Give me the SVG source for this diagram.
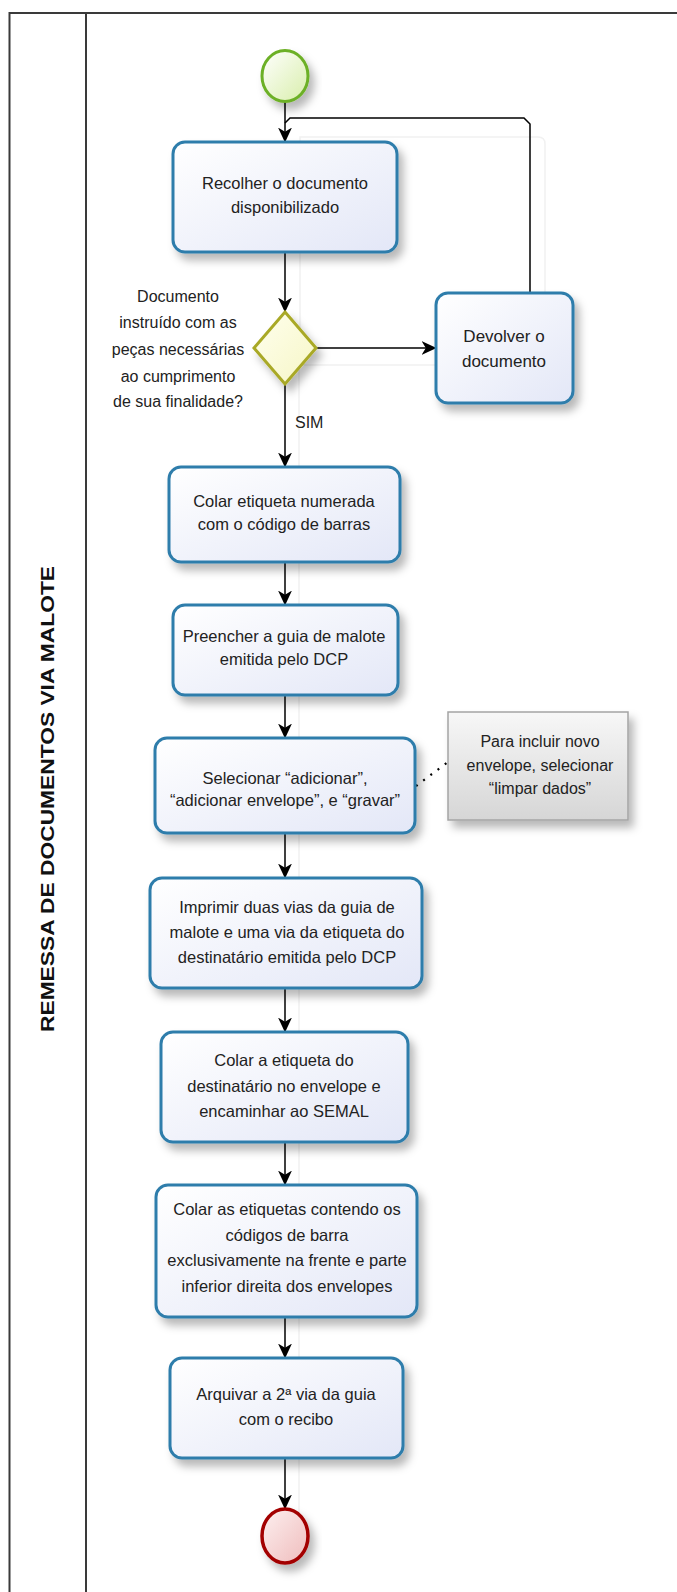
<svg xmlns="http://www.w3.org/2000/svg" width="677" height="1592" viewBox="0 0 677 1592">
<style>
.t{font-family:"Liberation Sans",Arial,sans-serif;font-size:16px;fill:#222;text-anchor:middle}
.b{font-size:16.5px}
.task{fill:url(#gTask);stroke:#2f7dab;stroke-width:3}
.con{fill:none;stroke:#000;stroke-width:1.5}
.frame{fill:none;stroke:#3a3a3a;stroke-width:2}
.ghost{fill:none;stroke:#f1f1f1;stroke-width:1.5}
</style>
<defs>
<linearGradient id="gTask" x1="0" y1="0" x2="1" y2="1"><stop offset="0" stop-color="#ffffff"/><stop offset="1" stop-color="#e3e7f7"/></linearGradient>
<linearGradient id="gStart" x1="0" y1="0" x2="1" y2="1"><stop offset="0" stop-color="#ffffff"/><stop offset="1" stop-color="#d8eeaa"/></linearGradient>
<linearGradient id="gEnd" x1="0" y1="0" x2="1" y2="1"><stop offset="0" stop-color="#fdf0f0"/><stop offset="1" stop-color="#efbcbc"/></linearGradient>
<linearGradient id="gGw" x1="0" y1="0" x2="1" y2="1"><stop offset="0" stop-color="#ffffee"/><stop offset="1" stop-color="#f6f6c6"/></linearGradient>
<linearGradient id="gNote" x1="0" y1="0" x2="0" y2="1"><stop offset="0" stop-color="#f7f7f7"/><stop offset="1" stop-color="#d6d6d6"/></linearGradient>
<filter id="sh" x="-20%" y="-20%" width="150%" height="160%"><feDropShadow dx="5" dy="7" stdDeviation="4" flood-color="#000" flood-opacity="0.28"/></filter>
<marker id="arr" viewBox="0 0 14 14" refX="13.5" refY="7" markerWidth="15" markerHeight="15" markerUnits="userSpaceOnUse" orient="auto"><path d="M0,0.5 L14,7 L0,13.5 L4,7 z" fill="#000"/></marker>
</defs>

<g id="lane">
<line class="frame" x1="9.5" y1="13" x2="677" y2="13"/>
<line class="frame" x1="9.5" y1="12" x2="9.5" y2="1592"/>
<line class="frame" x1="86" y1="13" x2="86" y2="1592"/>
<text transform="translate(54,799) rotate(-90)" style="font-family:'Liberation Sans',Arial,sans-serif;font-weight:bold;font-size:18px;fill:#111;text-anchor:middle" textLength="466" lengthAdjust="spacingAndGlyphs">REMESSA DE DOCUMENTOS VIA MALOTE</text>
</g>

<g id="ghosts">
<path class="ghost" d="M300,137 H538 Q545,137 545,144 V365 H300 Z"/>
<line class="ghost" x1="299" y1="365" x2="299" y2="1560"/>
</g>

<g id="connectors">
<line class="con" x1="285" y1="102" x2="285" y2="142" marker-end="url(#arr)"/>
<path class="con" d="M530,293 V124 L524,118 H290 L285,123"/>
<line class="con" x1="285" y1="252" x2="285" y2="312" marker-end="url(#arr)"/>
<line class="con" x1="316" y1="348" x2="436" y2="348" marker-end="url(#arr)"/>
<line class="con" x1="285" y1="384" x2="285" y2="467" marker-end="url(#arr)"/>
<line class="con" x1="285" y1="562" x2="285" y2="605" marker-end="url(#arr)"/>
<line class="con" x1="285" y1="695" x2="285" y2="738" marker-end="url(#arr)"/>
<line class="con" x1="285" y1="833" x2="285" y2="878" marker-end="url(#arr)"/>
<line class="con" x1="285" y1="988" x2="285" y2="1032" marker-end="url(#arr)"/>
<line class="con" x1="285" y1="1142" x2="285" y2="1185" marker-end="url(#arr)"/>
<line class="con" x1="285" y1="1317" x2="285" y2="1358" marker-end="url(#arr)"/>
<line class="con" x1="285" y1="1458" x2="285" y2="1509" marker-end="url(#arr)"/>
<line x1="416" y1="786" x2="448" y2="762" stroke="#000" stroke-width="2.2" stroke-dasharray="2,7"/>
<text class="t" x="295" y="428" style="text-anchor:start">SIM</text>
</g>

<g id="start">
<ellipse cx="285" cy="76" rx="23" ry="25.5" fill="url(#gStart)" stroke="#6cb025" stroke-width="3" filter="url(#sh)"/>
</g>

<g id="recolher">
<rect class="task" x="173" y="142" width="224" height="110" rx="12" filter="url(#sh)"/>
<text class="t b" x="285" y="189">Recolher o documento</text>
<text class="t b" x="285" y="213">disponibilizado</text>
</g>

<g id="gateway">
<path d="M285,312 L316,348 L285,384 L254,348 Z" fill="url(#gGw)" stroke="#a9a928" stroke-width="3" filter="url(#sh)"/>
<text class="t" x="178" y="302">Documento</text>
<text class="t" x="178" y="328">instruído com as</text>
<text class="t" x="178" y="355">peças necessárias</text>
<text class="t" x="178" y="382">ao cumprimento</text>
<text class="t" x="178" y="407">de sua finalidade?</text>
</g>

<g id="devolver">
<rect class="task" x="436" y="293" width="137" height="110" rx="12" filter="url(#sh)"/>
<text class="t" x="504" y="342" style="font-size:17px">Devolver o</text>
<text class="t" x="504" y="367" style="font-size:17px">documento</text>
</g>

<g id="colar-etiqueta">
<rect class="task" x="169" y="467" width="231" height="95" rx="12" filter="url(#sh)"/>
<text class="t b" x="284" y="507">Colar etiqueta numerada</text>
<text class="t b" x="284" y="530">com o código de barras</text>
</g>

<g id="preencher">
<rect class="task" x="173" y="605" width="225" height="90" rx="12" filter="url(#sh)"/>
<text class="t b" x="284" y="642">Preencher a guia de malote</text>
<text class="t b" x="284" y="665">emitida pelo DCP</text>
</g>

<g id="selecionar">
<rect class="task" x="155" y="738" width="260" height="95" rx="12" filter="url(#sh)"/>
<text class="t b" x="285" y="784">Selecionar “adicionar”,</text>
<text class="t b" x="285" y="806">“adicionar envelope”, e “gravar”</text>
</g>

<g id="nota">
<rect x="448" y="712" width="180" height="108" fill="url(#gNote)" stroke="#a4a4a4" stroke-width="1.5" filter="url(#sh)"/>
<text class="t" x="540" y="747">Para incluir novo</text>
<text class="t" x="540" y="771">envelope, selecionar</text>
<text class="t" x="540" y="794">“limpar dados”</text>
</g>

<g id="imprimir">
<rect class="task" x="150" y="878" width="272" height="110" rx="12" filter="url(#sh)"/>
<text class="t b" x="287" y="913">Imprimir duas vias da guia de</text>
<text class="t b" x="287" y="938">malote e uma via da etiqueta do</text>
<text class="t b" x="287" y="963">destinatário emitida pelo DCP</text>
</g>

<g id="colar-destinatario">
<rect class="task" x="161" y="1032" width="247" height="110" rx="12" filter="url(#sh)"/>
<text class="t b" x="284" y="1066">Colar a etiqueta do</text>
<text class="t b" x="284" y="1092">destinatário no envelope e</text>
<text class="t b" x="284" y="1117">encaminhar ao SEMAL</text>
</g>

<g id="colar-codigos">
<rect class="task" x="156" y="1185" width="261" height="132" rx="12" filter="url(#sh)"/>
<text class="t b" x="287" y="1215">Colar as etiquetas contendo os</text>
<text class="t b" x="287" y="1241">códigos de barra</text>
<text class="t b" x="287" y="1266">exclusivamente na frente e parte</text>
<text class="t b" x="287" y="1292">inferior direita dos envelopes</text>
</g>

<g id="arquivar">
<rect class="task" x="170" y="1358" width="233" height="100" rx="12" filter="url(#sh)"/>
<text class="t b" x="286" y="1400">Arquivar a 2ª via da guia</text>
<text class="t b" x="286" y="1425">com o recibo</text>
</g>

<g id="end">
<ellipse cx="285" cy="1536" rx="23" ry="27" fill="url(#gEnd)" stroke="#a30000" stroke-width="3.5" filter="url(#sh)"/>
</g>
</svg>
